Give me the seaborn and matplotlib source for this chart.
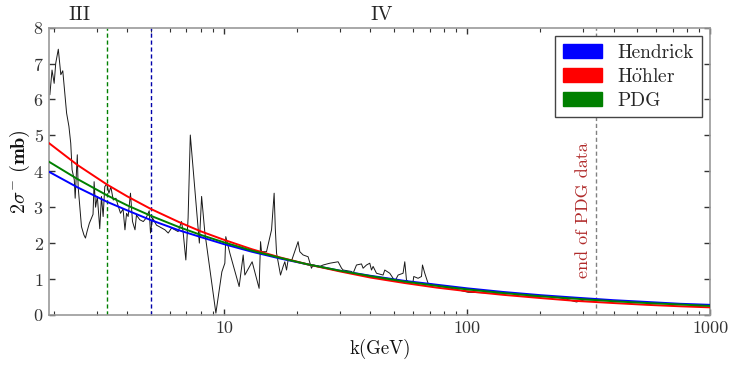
import numpy as np
import pandas as pd
import matplotlib
matplotlib.use("Agg")
import matplotlib.pyplot as plt
from matplotlib.patches import Patch
from matplotlib.ticker import FixedLocator, LogLocator, NullFormatter
import seaborn as sns

# ---------------- data ----------------
k_data = [1.92, 1.96, 2.00, 2.03, 2.08, 2.13, 2.17, 2.21, 2.25, 2.30, 2.34, 2.37,
          2.42, 2.44, 2.49, 2.51, 2.55, 2.59, 2.65, 2.69, 2.73, 2.79, 2.85, 2.89,
          2.92, 2.96, 3.01, 3.08, 3.13, 3.18, 3.23, 3.29, 3.36, 3.42, 3.50, 3.59,
          3.66, 3.75, 3.84, 3.91, 3.97, 4.03, 4.12, 4.20, 4.30, 4.36, 4.50, 4.65,
          4.77, 4.92, 4.98, 5.08, 5.27, 5.44, 5.71, 5.89, 6.08, 6.27, 6.47, 6.68,
          6.78, 6.96, 7.11, 7.26, 7.91, 8.08, 8.33, 9.25, 9.79, 10.07, 10.16, 10.56,
          11.53, 11.98, 12.17, 13.04, 13.93, 14.12, 14.25, 14.94, 15.67, 16.06,
          16.24, 16.43, 17.06, 17.49, 17.77, 18.06, 18.33, 18.99, 20.15, 20.48,
          21.13, 22.15, 22.87, 23.22, 24.75, 25.54, 27.22, 29.44, 30.41, 30.87,
          33.41, 33.93, 35.03, 36.73, 37.29, 38.51, 39.73, 40.38, 41.00, 42.34,
          45.06, 45.79, 48.01, 49.54, 50.34, 51.94, 54.45, 55.34, 56.24, 57.10,
          59.86, 60.26, 62.77, 64.82, 65.44, 66.88, 69.00, 77.1, 88.9, 100.8,
          112.6, 129.8, 149.6, 164.4, 201.9, 229.0, 251.8, 281.2, 304.2, 340.0]
sigma_data = [6.13, 6.82, 6.45, 7.01, 7.40, 6.69, 6.80, 6.22, 5.62, 5.25, 4.78, 4.04,
              3.76, 3.25, 4.46, 3.57, 3.00, 2.46, 2.23, 2.14, 2.32, 2.55, 2.70, 2.80,
              3.71, 3.00, 3.30, 2.40, 3.30, 2.74, 3.57, 3.65, 3.39, 3.57, 3.20, 3.25,
              3.05, 2.83, 2.95, 2.37, 2.83, 2.74, 3.39, 2.60, 2.37, 2.78, 2.65, 2.60,
              2.69, 2.90, 2.28, 2.70, 2.50, 2.45, 2.37, 2.28, 2.42, 2.37, 2.32, 2.60,
              2.32, 1.53, 2.70, 5.01, 2.00, 3.30, 2.30, 0.05, 1.20, 1.44, 2.18, 1.72,
              0.79, 1.67, 1.11, 1.48, 0.74, 2.04, 1.76, 1.76, 2.37, 3.39,
              2.40, 1.72, 1.11, 1.35, 1.48, 1.25, 1.53, 1.53, 2.04, 1.76,
              1.67, 1.62, 1.30, 1.39, 1.35, 1.39, 1.44, 1.48, 1.30, 1.25,
              1.21, 1.16, 1.39, 1.42, 1.30, 1.39, 1.44, 1.25, 1.35, 1.16,
              1.11, 1.25, 1.16, 1.02, 0.93, 1.11, 1.16, 1.48, 0.97, 0.93,
              0.93, 1.07, 1.02, 1.07, 1.39, 1.16, 0.88, 0.80, 0.72, 0.63,
              0.62, 0.60, 0.62, 0.52, 0.52, 0.50, 0.45, 0.36, 0.42, 0.42]

k_fit = [1.9, 2.5, 3.3, 4, 5, 6.5, 8, 10, 13, 17, 22, 30, 40, 55, 75, 100,
         140, 200, 280, 400, 550, 750, 1000]
hendrick = [3.99, 3.55, 3.15, 2.91, 2.64, 2.36, 2.17, 1.97, 1.76, 1.57, 1.41, 1.23,
            1.09, 0.95, 0.84, 0.74, 0.64, 0.55, 0.48, 0.41, 0.36, 0.31, 0.28]
hoehler = [4.79, 4.17, 3.63, 3.30, 2.95, 2.59, 2.33, 2.09, 1.83, 1.60, 1.41, 1.21,
           1.04, 0.89, 0.76, 0.66, 0.56, 0.47, 0.39, 0.33, 0.28, 0.24, 0.21]
pdg = [4.27, 3.78, 3.33, 3.05, 2.76, 2.45, 2.23, 2.02, 1.79, 1.59, 1.41, 1.23,
       1.08, 0.93, 0.81, 0.71, 0.61, 0.52, 0.45, 0.38, 0.33, 0.29, 0.25]

series_names = ["Hendrick", "Höhler", "PDG"]
series_colors = ["blue", "red", "green"]
vlines_k = [3.3, 5.0, 340.0]
region_labels = ["III", "IV"]
region_k = [2.55, 44.4]
x_ticks = [10, 100, 1000]
x_ticklabels = ["10", "100", "1000"]
y_ticks = [0, 1, 2, 3, 4, 5, 6, 7, 8]

# ---------------- style ----------------
sns.set_style("ticks")
plt.rcParams["font.family"] = ["cmr10", "DejaVu Serif"]
plt.rcParams["mathtext.fontset"] = "cm"
plt.rcParams["axes.formatter.use_mathtext"] = True
plt.rcParams["axes.unicode_minus"] = False

fig, ax = plt.subplots(figsize=(7.47, 3.74), dpi=100)
fig.subplots_adjust(left=0.066, right=0.951, top=0.926, bottom=0.158)

df_data = pd.DataFrame({"k": k_data, "sigma": sigma_data})
df_fit = pd.DataFrame({"k": k_fit, "Hendrick": hendrick, "Höhler": hoehler, "PDG": pdg})

# vertical dashed lines
ax.axvline(vlines_k[0], color="green", ls="--", lw=1.0, dashes=(3, 2), zorder=1)
ax.axvline(vlines_k[1], color="#0000aa", ls="--", lw=1.0, dashes=(3, 2), zorder=1)
ax.axvline(vlines_k[2], color="gray", ls="--", lw=1.0, dashes=(3, 2), zorder=1)

sns.lineplot(data=df_data, x="k", y="sigma", color="#1a1a1a", lw=0.7, ax=ax,
             sort=False, estimator=None, zorder=2)
for name, col in zip(series_names, series_colors):
    sns.lineplot(data=df_fit, x="k", y=name, color=col, lw=1.4, ax=ax,
                 sort=False, estimator=None, zorder=3)

ax.set_xscale("log")
ax.set_xlim(1.91, 1000)
ax.set_ylim(0, 8)

ax.xaxis.set_major_locator(FixedLocator(x_ticks))
ax.set_xticklabels(x_ticklabels)
ax.xaxis.set_minor_locator(LogLocator(base=10, subs=np.arange(2, 10)))
ax.xaxis.set_minor_formatter(NullFormatter())
ax.set_yticks(y_ticks)

ax.tick_params(which="both", direction="in", top=True, right=True,
               colors="#333333", labelcolor="#333333", labelsize=13)
ax.tick_params(which="major", length=4, width=1.0, pad=4)
ax.tick_params(which="minor", length=3, width=0.8)
for sp in ax.spines.values():
    sp.set_visible(True)
    sp.set_color("#999999")
    sp.set_linewidth(1.2)

ax.set_xlabel("k(GeV)", fontsize=13.5, color="#111111", labelpad=2)
ax.set_ylabel(r"$\boldsymbol{2\sigma^{-}}\ \mathbf{(mb)}$", fontsize=14.5,
              color="#111111", labelpad=1)

# region labels
trans = ax.get_xaxis_transform()
for lab, kx in zip(region_labels, region_k):
    ax.text(kx, 1.045, lab, transform=trans, ha="center", va="center", fontsize=14.5)

ax.text(300, 2.92, "end of PDG data", rotation=90, ha="center", va="center",
        fontsize=13, color="#b02a2a")

handles = [Patch(facecolor=c, edgecolor=c, alpha=1.0) for c in series_colors]
labels = ["Hendrick", r"H$\ddot{\mathrm{o}}$hler", "PDG"]
leg = ax.legend(handles, labels, loc="upper right", fontsize=14, frameon=True,
                fancybox=False, edgecolor="#444444", framealpha=1.0,
                borderaxespad=0.45, handlelength=2.0, handleheight=0.75,
                labelspacing=0.3, borderpad=0.4, handletextpad=0.8)
leg.get_frame().set_linewidth(1.0)

fig.savefig("out.png", dpi=100)
